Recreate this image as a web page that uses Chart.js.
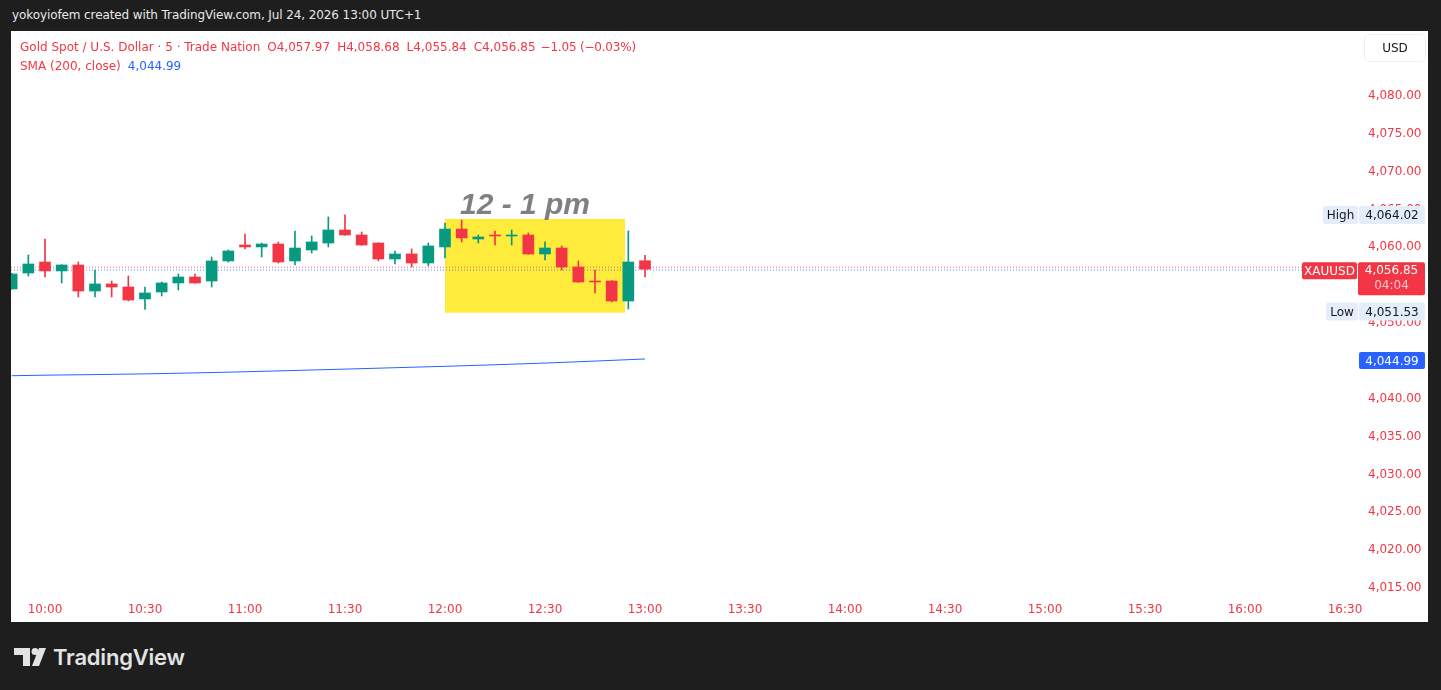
<!DOCTYPE html>
<html>
<head>
<meta charset="utf-8">
<script src="https://cdn.jsdelivr.net/npm/chart.js@4.4.1/dist/chart.umd.min.js"></script>
<style>
  html, body { margin: 0; padding: 0; background: #1e1e1e; width: 1441px; height: 690px; overflow: hidden;
    font-family: "DejaVu Sans", sans-serif; }
  #top { position: absolute; left: 12px; top: 8px; color: #e8e8e8; font-size: 12px; white-space: nowrap; letter-spacing: -0.1px; }
  #panel { position: absolute; left: 11px; top: 31px; width: 1417px; height: 591px; background: #fff; }
  #wrap { position: absolute; left: 0; top: 0; width: 1417px; height: 591px; }
  #legend { position: absolute; left: 9px; top: 7px; font-size: 12px; color: #f23645; line-height: 19px; white-space: nowrap; }
  #legend .v { margin-left: 7px; }
  #legend .last { margin-left: 5px; letter-spacing: -0.2px; }
  #legend .b { color: #2962ff; }
  #usd { position: absolute; left: 1353px; top: 3px; width: 62px; height: 28px; border: 1px solid #eef0f3; border-radius: 5px;
    font-size: 12px; color: #131722; text-align: center; line-height: 26px; box-sizing: border-box; }
  #logo { position: absolute; left: 14px; top: 646px; height: 22px; display: flex; align-items: center; }
  #logo span { font-family: Inter, "Noto Sans", sans-serif; font-weight: 600; font-size: 22px; color: #e3e3e3; margin-left: 7px; letter-spacing: -0.2px; }
</style>
</head>
<body>
<div id="top">yokoyiofem created with TradingView.com, Jul 24, 2026 13:00 UTC+1</div>
<div id="panel">
  <div id="wrap"><canvas id="cv"></canvas></div>
  <div id="legend">
    <div>Gold Spot / U.S. Dollar · 5 · Trade Nation<span class="v">O4,057.97</span><span class="v">H4,058.68</span><span class="v">L4,055.84</span><span class="v">C4,056.85</span><span class="v last">−1.05 (−0.03%)</span></div>
    <div>SMA (200, close)<span class="v b">4,044.99</span></div>
  </div>
  <div id="usd">USD</div>
</div>
<div id="logo">
  <svg width="32" height="18" viewBox="0 0 32 18">
    <path d="M0 0 H16 V18 H9 V7 H0 Z" fill="#e3e3e3"/>
    <circle cx="21" cy="3.5" r="3.5" fill="#e3e3e3"/>
    <path d="M25 0 H32 L25 18 H18 Z" fill="#e3e3e3"/>
  </svg>
  <span>TradingView</span>
</div>

<script>
// ---- data (5 min bars, time in minutes after midnight) ----
const barTimes = [590, 595, 600, 605, 610, 615, 620, 625, 630, 635, 640, 645, 650, 655,
  660, 665, 670, 675, 680, 685, 690, 695, 700, 705, 710, 715, 720, 725, 730, 735,
  740, 745, 750, 755, 760, 765, 770, 775, 780];
const opens = [4054.24, 4056.35, 4057.80, 4056.62, 4057.41, 4053.97, 4054.90, 4054.50, 4052.92, 4053.84,
  4055.03, 4055.82, 4055.29, 4057.94, 4060.05, 4059.79, 4060.18, 4057.94, 4059.39, 4060.31,
  4062.03, 4061.37, 4060.31, 4058.20, 4058.86, 4057.67, 4059.79, 4062.16, 4060.84, 4061.30,
  4061.24, 4061.37, 4058.86, 4059.65, 4057.14, 4055.29, 4055.29, 4052.65, 4057.97];
const highs = [4056.30, 4058.73, 4060.84, 4057.45, 4057.80, 4056.75, 4055.29, 4055.95, 4054.50, 4055.16,
  4056.22, 4056.22, 4058.46, 4059.39, 4061.50, 4060.31, 4060.45, 4061.90, 4061.24, 4063.75,
  4064.02, 4061.77, 4060.35, 4059.26, 4059.52, 4060.31, 4062.96, 4063.35, 4061.37, 4061.90,
  4062.03, 4061.64, 4060.45, 4059.92, 4057.94, 4056.75, 4055.35, 4061.90, 4058.68];
const lows = [4054.20, 4055.95, 4055.82, 4055.03, 4053.18, 4053.18, 4053.18, 4052.65, 4051.53, 4053.31,
  4054.11, 4055.00, 4054.50, 4057.80, 4059.52, 4058.46, 4057.67, 4057.41, 4058.99, 4059.79,
  4061.30, 4060.00, 4057.94, 4057.54, 4057.14, 4057.28, 4058.33, 4060.45, 4060.31, 4060.05,
  4060.05, 4058.80, 4058.07, 4056.75, 4055.10, 4053.71, 4052.52, 4051.60, 4055.84];
const closes = [4056.22, 4057.54, 4056.62, 4057.41, 4053.97, 4054.90, 4054.50, 4052.78, 4053.71, 4055.03,
  4055.82, 4055.03, 4057.94, 4059.26, 4059.79, 4060.18, 4057.80, 4059.65, 4060.45, 4062.03,
  4061.37, 4060.05, 4058.20, 4058.86, 4057.67, 4059.92, 4062.16, 4060.98, 4061.11, 4061.24,
  4061.30, 4058.86, 4059.65, 4057.14, 4055.16, 4055.16, 4052.65, 4057.80, 4056.85];

// SMA(200) read at a few points
const smaTimes = [590, 600, 630, 660, 690, 720, 750, 780];
const smaValues = [4042.78, 4042.85, 4043.02, 4043.30, 4043.65, 4044.02, 4044.45, 4044.99];

// ask / bid dotted lines
const askPrice = 4057.12;
const bidPrice = 4056.74;

// highlighted session box + label
const boxTimes = [720, 774];
const boxPrices = [4051.10, 4063.50];
const boxLabel = "12 - 1 pm";
const boxLabelAt = [744, 4064.15];

// price scale tags
const lastPrice = 4056.85;
const countdown = "04:04";
const highPrice = 4064.02;
const lowPrice = 4051.53;
const smaLast = 4044.99;

// visible window
const xRange = [589.8, 993.9];
const yRange = [4013.94, 4088.32];
const yTickTop = 4080;

// ---- chart ----
const UP = "#089981", DOWN = "#f23645", BLUE = "#2962ff";
const FONT = '"DejaVu Sans", sans-serif';
const barColors = barTimes.map((t, i) => closes[i] >= opens[i] ? UP : DOWN);

function fmtPrice(v) {
  return v.toLocaleString("en-US", { minimumFractionDigits: 2, maximumFractionDigits: 2 });
}
function fmtTime(v) {
  const h = Math.floor(v / 60), m = Math.round(v % 60);
  return h + ":" + String(m).padStart(2, "0");
}

Chart.defaults.font.family = FONT;

function rrect(ctx, x, y, w, h, r) {
  ctx.beginPath();
  if (ctx.roundRect) ctx.roundRect(x, y, w, h, r); else ctx.rect(x, y, w, h);
  ctx.fill();
}

function tag(ctx, x, y, w, h, bg, fg, text, font) {
  ctx.fillStyle = bg;
  rrect(ctx, x, y, w, h, 2);
  if (text) {
    ctx.fillStyle = fg;
    ctx.font = font || "12px " + FONT;
    ctx.textAlign = "center";
    ctx.textBaseline = "middle";
    ctx.fillText(text, x + w / 2, y + h / 2 + 1);
  }
}

const sessionBox = {
  id: "sessionBox",
  beforeDatasetsDraw(chart) {
    const { ctx, scales: { x, y } } = chart;
    const x0 = x.getPixelForValue(boxTimes[0]), x1 = x.getPixelForValue(boxTimes[1]);
    const y0 = y.getPixelForValue(boxPrices[1]), y1 = y.getPixelForValue(boxPrices[0]);
    ctx.save();
    ctx.fillStyle = "#ffeb3b";
    ctx.fillRect(x0, y0, x1 - x0, y1 - y0);
    ctx.fillStyle = "#808080";
    ctx.font = "italic bold 30px 'Liberation Sans', Arial";
    ctx.textAlign = "center";
    ctx.textBaseline = "alphabetic";
    ctx.fillText(boxLabel, x.getPixelForValue(boxLabelAt[0]), y.getPixelForValue(boxLabelAt[1]));
    ctx.restore();
  }
};

const priceTags = {
  id: "priceTags",
  afterDraw(chart) {
    const { ctx, chartArea: a, scales: { y } } = chart;
    const R = a.right;
    const light = "#e4edfa", ink = "#131722";
    ctx.save();
    // high
    let py = y.getPixelForValue(highPrice);
    tag(ctx, R - 35, py - 9, 35, 18, light, ink, "High");
    tag(ctx, R + 1, py - 9, 66, 18, light, ink, fmtPrice(highPrice));
    // last price
    py = y.getPixelForValue(lastPrice);
    tag(ctx, R - 56, py - 7, 55, 17, DOWN, "#fff", "XAUUSD");
    tag(ctx, R, py - 7, 67, 33, DOWN, "#fff", "");
    ctx.fillStyle = "#fff";
    ctx.textAlign = "center";
    ctx.textBaseline = "middle";
    ctx.font = "12px " + FONT;
    ctx.fillText(fmtPrice(lastPrice), R + 33.5, py + 2);
    ctx.fillStyle = "rgba(255,255,255,0.72)";
    ctx.fillText(countdown, R + 33.5, py + 17);
    // low
    py = y.getPixelForValue(lowPrice);
    tag(ctx, R - 32, py - 7, 32, 18, light, ink, "Low");
    tag(ctx, R + 1, py - 7, 66, 18, light, ink, fmtPrice(lowPrice));
    // sma
    py = y.getPixelForValue(smaLast);
    tag(ctx, R + 1, py - 7, 66, 17, BLUE, "#fff", fmtPrice(smaLast));
    ctx.restore();
  }
};

new Chart(document.getElementById("cv"), {
  data: {
    datasets: [
      {
        type: "bar",
        label: "body",
        data: barTimes.map((t, i) => ({ x: t, y: [opens[i], closes[i]] })),
        backgroundColor: barColors,
        barThickness: 11,
        minBarLength: 1,
        grouped: false,
        order: 0
      },
      {
        type: "bar",
        label: "wick",
        data: barTimes.map((t, i) => ({ x: t, y: [lows[i], highs[i]] })),
        backgroundColor: barColors,
        barThickness: 1,
        grouped: false,
        order: 1
      },
      {
        type: "line",
        label: "ask",
        data: [{ x: xRange[0], y: askPrice }, { x: xRange[1], y: askPrice }],
        borderColor: "rgba(242,54,69,0.75)",
        borderWidth: 1,
        borderDash: [1, 2],
        pointRadius: 0,
        order: 2
      },
      {
        type: "line",
        label: "bid",
        data: [{ x: xRange[0], y: bidPrice }, { x: xRange[1], y: bidPrice }],
        borderColor: "rgba(41,98,255,0.75)",
        borderWidth: 1,
        borderDash: [1, 2],
        pointRadius: 0,
        order: 2
      },
      {
        type: "line",
        label: "SMA",
        data: smaTimes.map((t, i) => ({ x: t, y: smaValues[i] })),
        borderColor: BLUE,
        borderWidth: 1,
        pointRadius: 0,
        cubicInterpolationMode: "monotone",
        order: 3
      }
    ]
  },
  options: {
    responsive: true,
    maintainAspectRatio: false,
    animation: false,
    events: [],
    layout: { padding: 0 },
    plugins: { legend: { display: false }, tooltip: { enabled: false } },
    scales: {
      x: {
        type: "linear",
        position: "bottom",
        offset: false,
        min: xRange[0],
        max: xRange[1],
        grid: { display: false, drawTicks: false, offset: false },
        border: { display: false },
        afterFit(s) { s.height = 28; s.paddingLeft = 0; s.paddingRight = 0; },
        ticks: {
          stepSize: 30,
          includeBounds: false,
          autoSkip: false,
          maxRotation: 0,
          padding: 9,
          color: DOWN,
          font: { size: 12 },
          callback: v => fmtTime(v)
        }
      },
      y: {
        type: "linear",
        position: "right",
        min: yRange[0],
        max: yRange[1],
        grid: { display: false, drawTicks: false },
        border: { display: false },
        afterFit(s) { s.width = 70; s.paddingTop = 0; s.paddingBottom = 0; },
        ticks: {
          stepSize: 5,
          includeBounds: false,
          padding: 10,
          labelOffset: 2,
          color: DOWN,
          font: { size: 12 },
          callback: v => v > yTickTop ? null : fmtPrice(v)
        }
      }
    }
  },
  plugins: [sessionBox, priceTags]
});
</script>
</body>
</html>
